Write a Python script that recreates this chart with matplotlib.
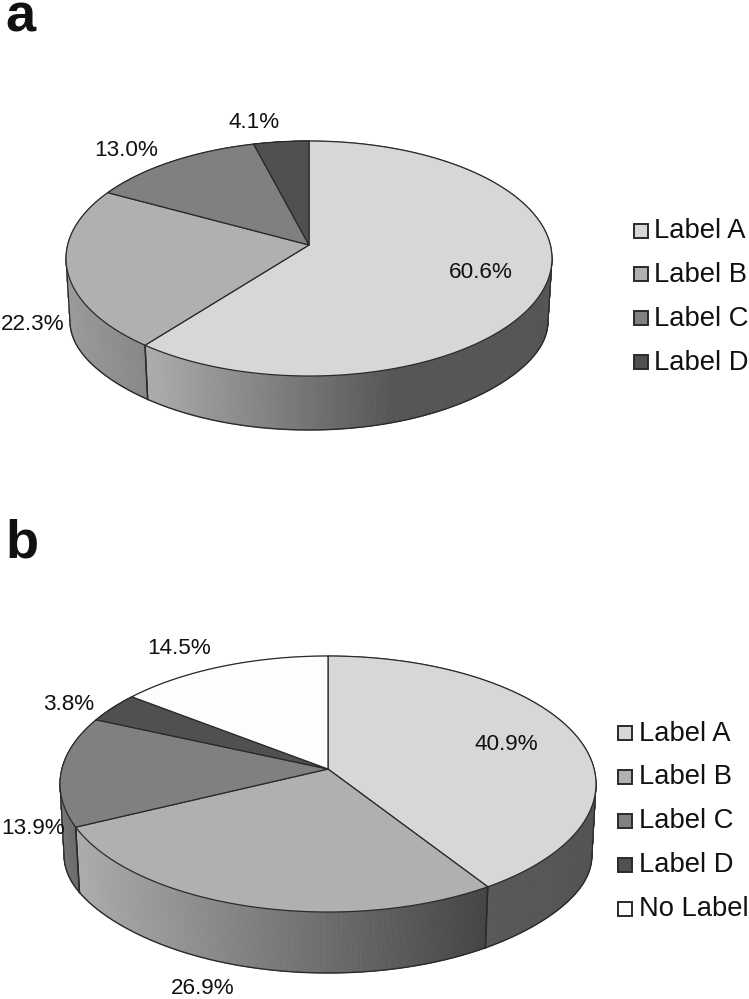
import numpy as np
import matplotlib
matplotlib.use("Agg")
import matplotlib.pyplot as plt
from matplotlib.collections import PolyCollection
from matplotlib.patches import Polygon, Rectangle

plt.rcParams['font.family'] = ['Liberation Sans', 'DejaVu Sans']

labels_a = ['Label A', 'Label B', 'Label C', 'Label D']
values_a = [60.6, 22.3, 13.0, 4.1]
labels_b = ['Label A', 'Label B', 'Label C', 'Label D', 'No Label']
values_b = [40.9, 26.9, 13.9, 3.8, 14.5]

TOP_GREYS = {'Label A': 215, 'Label B': 176, 'Label C': 128, 'Label D': 80, 'No Label': 253}
LINE = '#2a2a2a'

fig = plt.figure(figsize=(7.49, 9.99), dpi=100)
ax = fig.add_axes([0, 0, 1, 1])
W, H = 749, 999


def grey(v):
    return (v / 255, v / 255, v / 255)


def draw_pie(labels, values, cx, cy, rx, up, down, depth, shrink, walls, val_pos,
             leg_x, leg_ys, text_x, side_extra=8):
    a = (down - up) / (down + up)
    b = up * (1 + a)
    c = rx * np.sqrt(1 - a * a)

    def project(theta):
        u, v = np.sin(theta), np.cos(theta)
        d = 1 + a * v
        return cx + c * u / d, cy - b * v / d

    def lower(theta):
        x, y = project(theta)
        return cx + shrink * (x - cx), y + depth + side_extra * np.sin(theta) ** 8

    edges = np.radians(np.concatenate([[0], np.cumsum(values)]) / np.sum(values) * 360)

    fine = np.linspace(0, 2 * np.pi, 2000)
    fx, fy = project(fine)
    th_right, th_left = fine[np.argmax(fx)], fine[np.argmin(fx)]

    for i, name in enumerate(labels):
        th = np.linspace(edges[i], edges[i + 1], 300)
        x, y = project(th)
        xb, yb = lower(th)
        quads = [[(x[k], y[k]), (x[k + 1], y[k + 1]), (xb[k + 1], yb[k + 1]), (xb[k], yb[k])]
                 for k in range(len(th) - 1)]
        gx0, g0, gx1, g1 = walls[i]
        shades = np.interp((x[:-1] + x[1:]) / 2, [gx0, gx1], [g0, g1])
        cols = [grey(s) for s in shades]
        ax.add_collection(PolyCollection(quads, facecolors=cols, edgecolors=cols,
                                         linewidths=0.6, zorder=2))
        front = (th >= th_right) & (th <= th_left)
        if front.any():
            ax.plot(xb[front], yb[front], color=LINE, lw=1.0, zorder=3)
        for t in (edges[i], edges[i + 1]):
            if th_right <= t <= th_left:
                x0, y0 = project(t)
                x1, y1 = lower(t)
                ax.plot([x0, x1], [y0, y1], color=LINE, lw=1.0, zorder=3)

    # silhouette of the side wall at the left and right extremes
    for t in (th_left, th_right):
        x0, y0 = project(t)
        x1, y1 = lower(t)
        ax.plot([x0, x1], [y0, y1], color=LINE, lw=0.9, zorder=3)

    for i, name in enumerate(labels):
        th = np.linspace(edges[i], edges[i + 1], 300)
        x, y = project(th)
        verts = np.column_stack([np.r_[cx, x], np.r_[cy, y]])
        ax.add_patch(Polygon(verts, closed=True, fc=grey(TOP_GREYS[name]), ec=LINE,
                             lw=0.9, joinstyle='round', zorder=4))
    for val, (px, py) in zip(values, val_pos):
        ax.text(px, py, f'{val:.1f}%', fontsize=16.2, ha='center', va='center',
                color='#111111', zorder=6)
    for name, ly in zip(labels, leg_ys):
        ax.add_patch(Rectangle((leg_x, ly - 7), 14, 14, fc=grey(TOP_GREYS[name]), ec=LINE,
                               lw=1.4, zorder=5))
        ax.text(text_x, ly + 1, name, fontsize=19.7, ha='left', va='center',
                color='#111111', zorder=6)


draw_pie(labels_a, values_a, 309, 245, 243, 104, 131, 54, 0.984,
         walls=[(147, 172, 395, 85), (66, 155, 147, 135), (100, 120, 250, 110), (250, 75, 310, 70)],
         val_pos=[(481, 273), (33, 325), (126, 151), (254, 123)],
         leg_x=634, leg_ys=[230.5, 274, 318, 362], text_x=654)

draw_pie(labels_b, values_b, 328, 769, 268, 113, 143, 61, 0.985,
         walls=[(487, 88, 596, 84), (78, 172, 485, 68), (60, 118, 78, 104),
                (60, 75, 130, 70), (130, 200, 328, 200)],
         val_pos=[(506, 744), (203, 989), (33, 829), (69, 705), (179, 649)],
         leg_x=618, leg_ys=[733, 776.5, 820.5, 864.5, 908.5], text_x=639, side_extra=10)

ax.text(5, 32, 'a', fontsize=39, fontweight='bold', ha='left', va='baseline', color='#111111')
ax.text(5, 558, 'b', fontsize=39, fontweight='bold', ha='left', va='baseline', color='#111111')

ax.set_xlim(0, W)
ax.set_ylim(H, 0)
ax.axis('off')
fig.savefig('out.png', dpi=100, facecolor='white')
